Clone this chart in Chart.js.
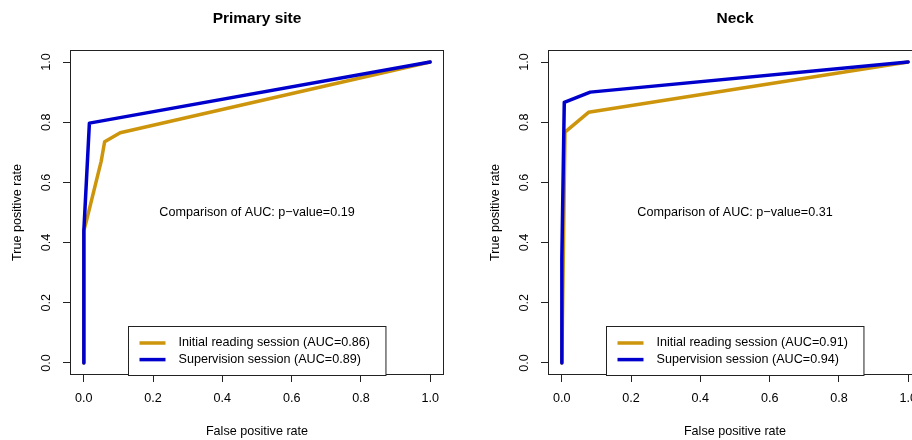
<!DOCTYPE html>
<html><head><meta charset="utf-8">
<script src="https://cdn.jsdelivr.net/npm/chart.js@4"></script>
<style>
html,body{margin:0;padding:0;background:#fff;overflow:hidden;width:912px;height:440px;position:relative}
.p{position:absolute;top:0;width:456px;height:440px}
canvas{display:block}
</style></head><body>
<div class="p" style="left:0"><canvas id="c1" width="456" height="440"></canvas></div>
<div class="p" style="left:478px"><canvas id="c2" width="456" height="440"></canvas></div>
<script>
// ---- data ----
const panelTitles = ["Primary site", "Neck"];
const seriesNames = ["Initial reading session", "Supervision session"];
const xTicks = [0, 0.2, 0.4, 0.6, 0.8, 1.0];
const yTicks = [0, 0.2, 0.4, 0.6, 0.8, 1.0];
const xAxisTitle = "False positive rate";
const yAxisTitle = "True positive rate";

const primaryInitialFpr = [0, 0, 0.007, 0.05, 0.06, 0.105, 1];
const primaryInitialTpr = [0, 0.44, 0.47, 0.67, 0.735, 0.765, 1];
const primarySupervisionFpr = [0, 0, 0.016, 1];
const primarySupervisionTpr = [0, 0.44, 0.797, 1];

const neckInitialFpr = [0, 0.009, 0.077, 1];
const neckInitialTpr = [0, 0.767, 0.833, 1];
const neckSupervisionFpr = [0, 0, 0.007, 0.082, 1];
const neckSupervisionTpr = [0, 0.35, 0.866, 0.90, 1];

const aucInitial = [0.86, 0.91];
const aucSupervision = [0.89, 0.94];
const pValues = [0.19, 0.31];

const colInitial = "#CD950C";
const colSupervision = "#0000CD";
const FONT = "'Liberation Sans', Arial, Helvetica, sans-serif";

function pts(xs, ys) { return xs.map((x, i) => ({x: x, y: ys[i]})); }

const decor = {
  id: 'decor',
  afterDatasetsDraw(chart, args, opts) {
    const ctx = chart.ctx, a = chart.chartArea;
    const xs = chart.scales.x, ys = chart.scales.y;
    ctx.save();
    // box
    ctx.strokeStyle = '#222'; ctx.lineWidth = 1;
    ctx.strokeRect(Math.round(a.left) + 0.5, Math.round(a.top) + 0.5,
                   Math.round(a.right - a.left) - 1, Math.round(a.bottom - a.top) - 1);
    // rotated y tick labels
    ctx.fillStyle = '#000';
    ctx.font = '12.6px ' + FONT;
    ctx.textAlign = 'center'; ctx.textBaseline = 'middle';
    yTicks.forEach(v => {
      const py = ys.getPixelForValue(v);
      ctx.save(); ctx.translate(a.left - 23, py); ctx.rotate(-Math.PI / 2);
      ctx.fillText(v.toFixed(1), 0, 0); ctx.restore();
    });
    // annotation
    ctx.font = '12.6px ' + FONT;
    ctx.fillText(opts.note, xs.getPixelForValue(0.5), ys.getPixelForValue(0.5));
    // legend
    const ds = chart.data.datasets;
    const labels = opts.labels;
    ctx.font = '12.6px ' + FONT;
    let tw = 0; labels.forEach(l => tw = Math.max(tw, ctx.measureText(l).width));
    const w = tw + 66, h = 49;
    const cx = (a.left + a.right) / 2;
    const lx = Math.round(cx - w / 2) + 0.5, ly = Math.round(a.bottom - h) + 0.5;
    ctx.fillStyle = '#fff';
    ctx.fillRect(lx, ly, w, h);
    ctx.strokeStyle = '#222'; ctx.lineWidth = 1;
    ctx.strokeRect(lx, ly, w, h);
    labels.forEach((l, i) => {
      const yy = ly + 16.5 + i * 16.6;
      ctx.strokeStyle = ds[i].borderColor; ctx.lineWidth = 3.5; ctx.lineCap = 'butt';
      ctx.beginPath(); ctx.moveTo(lx + 11, yy); ctx.lineTo(lx + 37, yy); ctx.stroke();
      ctx.fillStyle = '#000'; ctx.textAlign = 'left';
      ctx.fillText(l, lx + 50, yy);
    });
    ctx.restore();
  }
};

function makeChart(id, k, iFpr, iTpr, sFpr, sTpr) {
  return new Chart(document.getElementById(id), {
    type: 'line',
    data: {
      datasets: [
        {label: seriesNames[0], data: pts(iFpr, iTpr), borderColor: colInitial, order: 2},
        {label: seriesNames[1], data: pts(sFpr, sTpr), borderColor: colSupervision, order: 1}
      ]
    },
    options: {
      responsive: false, animation: false,
      parsing: false,
      layout: {padding: {left: 0, right: 12, top: 0, bottom: 0}},
      elements: {
        line: {borderWidth: 3.5, tension: 0, fill: false, borderCapStyle: 'round', borderJoinStyle: 'round'},
        point: {radius: 0, hoverRadius: 0}
      },
      plugins: {
        legend: {display: false},
        tooltip: {enabled: false},
        title: {
          display: true, text: panelTitles[k], fullSize: false, color: '#000',
          font: {family: FONT, size: 15.5, weight: 'bold'},
          padding: {top: 9, bottom: 22.4}
        },
        decor: {
          note: 'Comparison of AUC: p\u2212value=' + pValues[k].toFixed(2),
          labels: [
            seriesNames[0] + ' (AUC=' + aucInitial[k].toFixed(2) + ')',
            seriesNames[1] + ' (AUC=' + aucSupervision[k].toFixed(2) + ')'
          ]
        }
      },
      scales: {
        x: {
          type: 'linear', min: -0.04, max: 1.04,
          afterBuildTicks: s => { s.ticks = xTicks.map(v => ({value: v})); },
          afterFit: s => { s.height = 65; },
          ticks: {callback: v => v.toFixed(1), color: '#000', font: {family: FONT, size: 12.6}, padding: 9, maxRotation: 0, autoSkip: false},
          grid: {display: true, drawOnChartArea: false, drawTicks: true, tickLength: 7, color: '#222'},
          border: {display: false},
          title: {display: true, text: xAxisTitle, color: '#000', font: {family: FONT, size: 12.6}, padding: {top: 0, bottom: 1}}
        },
        y: {
          type: 'linear', min: -0.04, max: 1.04,
          afterBuildTicks: s => { s.ticks = yTicks.map(v => ({value: v})); },
          afterFit: s => { s.width = 70; },
          ticks: {display: false},
          grid: {display: true, drawOnChartArea: false, drawTicks: true, tickLength: 7, color: '#222'},
          border: {display: false},
          title: {display: true, text: yAxisTitle, color: '#000', font: {family: FONT, size: 12.6}, padding: {top: 10, bottom: 0}}
        }
      }
    },
    plugins: [decor]
  });
}

makeChart('c1', 0, primaryInitialFpr, primaryInitialTpr, primarySupervisionFpr, primarySupervisionTpr);
makeChart('c2', 1, neckInitialFpr, neckInitialTpr, neckSupervisionFpr, neckSupervisionTpr);
</script>
</body></html>
